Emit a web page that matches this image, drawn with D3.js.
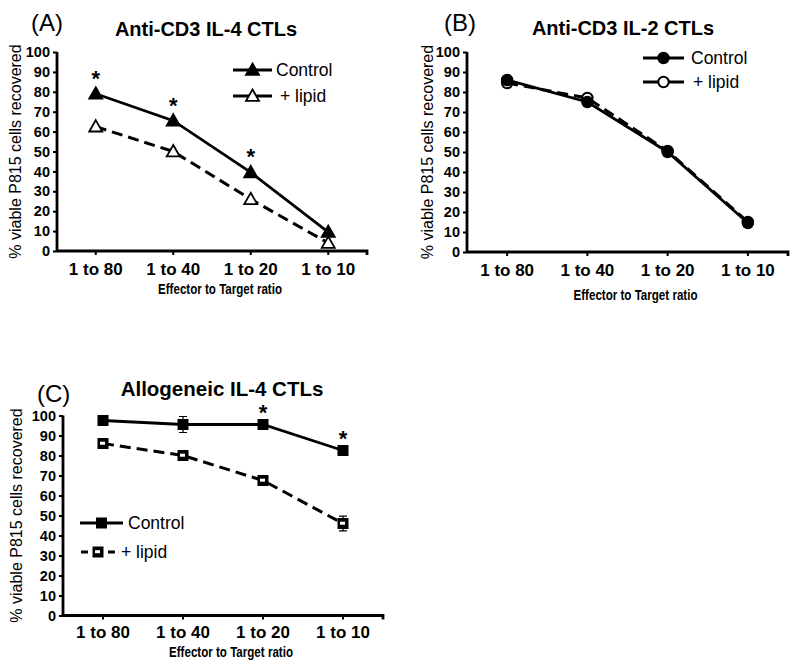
<!DOCTYPE html>
<html><head><meta charset="utf-8">
<script src="https://cdn.jsdelivr.net/npm/d3@7"></script>
<style>
body{margin:0;background:#fff;}
svg{display:block;}
</style></head>
<body>
<script>
const categories = ["1 to 80", "1 to 40", "1 to 20", "1 to 10"];
const yTickValues = [0, 10, 20, 30, 40, 50, 60, 70, 80, 90, 100];
const seriesNames = ["Control", "+ lipid"];

const aControl = [79, 65.5, 39.5, 9.5];
const aLipid = [62.5, 50, 26, 4];
const aStars = [true, true, true, false];

const bControl = [86, 75, 50, 14.5];
const bLipid = [84.5, 77, 50.5, 15];
const bStars = [false, false, false, false];

const cControl = [97.5, 95.5, 95.5, 82.5];
const cControlErr = [0.8, 4, 0.8, 0.8];
const cLipid = [86, 80, 67.5, 46];
const cLipidErr = [0.8, 0.8, 0.8, 3.7];
const cStars = [false, false, true, true];

const W = 800, H = 671;
const SANS = "Liberation Sans, Arial, sans-serif";
const NARROW = "Liberation Sans Narrow, Arial Narrow, Liberation Sans, Arial, sans-serif";
const svg = d3.select("body").append("svg").attr("width", W).attr("height", H);

const panels = [
  {label:"(A)", title:"Anti-CD3 IL-4 CTLs", x0:57, x1:367, yb:251, yt:52, labelX:31, labelY:31, titleX:206, titleY:36, titleSize:20,
   ctrl:aControl, lip:aLipid, ctrlErr:null, lipErr:null, stars:aStars, starOff:8, marker:"tri", tickPad:8,
   legend:{x1:233, x2:272, y1:70, y2:96, tx:276, tx2:280}, yLabelX:21, xLabelY:294},
  {label:"(B)", title:"Anti-CD3 IL-2 CTLs", x0:467, x1:788, yb:252, yt:52, labelX:444, labelY:31, titleX:623, titleY:35, titleSize:20,
   ctrl:bControl, lip:bLipid, ctrlErr:null, lipErr:null, stars:bStars, starOff:8, marker:"circle", tickPad:8,
   legend:{x1:643, x2:684, y1:58, y2:82, tx:691, tx2:693}, yLabelX:433, xLabelY:300},
  {label:"(C)", title:"Allogeneic IL-4 CTLs", x0:63, x1:383, yb:615.5, yt:415.5, labelX:37, labelY:402, titleX:222, titleY:396, titleSize:20.5,
   ctrl:cControl, lip:cLipid, ctrlErr:cControlErr, lipErr:cLipidErr, stars:cStars, starOff:5, marker:"square", tickPad:6,
   legend:{x1:80, x2:123, y1:523, y2:552, tx:128, tx2:121, lx1:81, lx2:115}, yLabelX:22, xLabelY:657}
];

function drawMarker(g, type, filled, x, y){
  if(type==="tri"){
    const s=6.5;
    g.append("path").attr("d",`M${x},${y-s}L${x+s},${y+s*0.75}L${x-s},${y+s*0.75}Z`)
      .attr("fill", filled?"#000":"#fff").attr("stroke","#000").attr("stroke-width",1.8);
  } else if(type==="circle"){
    g.append("circle").attr("cx",x).attr("cy",y).attr("r",5.2)
      .attr("fill", filled?"#000":"#fff").attr("stroke","#000").attr("stroke-width",2);
  } else {
    g.append("rect").attr("x",x-5.5).attr("y",y-5.5).attr("width",11).attr("height",11).attr("fill","#000");
    if(!filled){
      g.append("rect").attr("x",x-3).attr("y",y-1.8).attr("width",5).attr("height",3).attr("fill","#fff");
    }
  }
}

panels.forEach(p => {
  const g = svg.append("g");
  const x = d3.scaleBand().domain(categories).range([p.x0, p.x1]);
  const y = d3.scaleLinear().domain([0, 100]).range([p.yb, p.yt]);
  const cx = d => x(d) + x.bandwidth()/2;

  // y axis
  const ya = g.append("g").attr("transform",`translate(${p.x0},0)`)
    .call(d3.axisLeft(y).tickValues(yTickValues).tickSize(4).tickPadding(3));
  ya.select(".domain").attr("stroke","#000").attr("stroke-width",2.8).attr("d",`M0,${p.yt}V${p.yb}`);
  ya.selectAll(".tick line").attr("stroke","#000").attr("stroke-width",2);
  ya.selectAll("text").attr("font-family",NARROW).attr("font-weight","bold").attr("font-size",14.5).attr("fill","#000");

  // x axis
  const xa = g.append("g").attr("transform",`translate(0,${p.yb})`)
    .call(d3.axisBottom(x).tickSize(4).tickPadding(p.tickPad));
  xa.select(".domain").attr("stroke","#000").attr("stroke-width",2.8).attr("d",`M${p.x0},0H${p.x1}V4`);
  xa.selectAll(".tick line").attr("stroke","#000").attr("stroke-width",2);
  xa.selectAll("text").attr("font-family",SANS).attr("font-weight","bold").attr("font-size",17).attr("fill","#000");

  // axis labels
  g.append("text").attr("transform",`translate(${p.yLabelX},${(p.yt+p.yb)/2}) rotate(-90)`)
    .attr("text-anchor","middle").attr("font-family",SANS).attr("font-size",16)
    .text("% viable P815 cells recovered");
  g.append("text").attr("x",(p.x0+p.x1)/2+8).attr("y",p.xLabelY).attr("text-anchor","middle")
    .attr("font-family",NARROW).attr("font-weight","bold").attr("font-size",15)
    .attr("textLength",124).attr("lengthAdjust","spacingAndGlyphs").text("Effector to Target ratio");

  // titles
  g.append("text").attr("x",p.labelX).attr("y",p.labelY).attr("font-family",SANS)
    .attr("font-size",24).text(p.label);
  g.append("text").attr("x",p.titleX).attr("y",p.titleY).attr("text-anchor","middle")
    .attr("font-family",SANS).attr("font-weight","bold").attr("font-size",p.titleSize).text(p.title);

  const line = d3.line().x((d,i)=>cx(categories[i])).y(d=>y(d));

  // error bars
  [[p.ctrl,p.ctrlErr],[p.lip,p.lipErr]].forEach(([vals,errs])=>{
    if(!errs) return;
    vals.forEach((v,i)=>{
      const xx=cx(categories[i]);
      g.append("path").attr("d",`M${xx},${y(v+errs[i])}V${y(v-errs[i])}M${xx-4},${y(v+errs[i])}H${xx+4}M${xx-4},${y(v-errs[i])}H${xx+4}`)
        .attr("stroke","#000").attr("stroke-width",1.2).attr("fill","none");
    });
  });

  // lines
  g.append("path").datum(p.lip).attr("d",line).attr("fill","none").attr("stroke","#000")
    .attr("stroke-width",3).attr("stroke-dasharray","11,6");
  g.append("path").datum(p.ctrl).attr("d",line).attr("fill","none").attr("stroke","#000").attr("stroke-width",2.8);

  // markers
  p.lip.forEach((v,i)=>drawMarker(g,p.marker,false,cx(categories[i]),y(v)));
  p.ctrl.forEach((v,i)=>drawMarker(g,p.marker,true,cx(categories[i]),y(v)));

  // stars
  p.stars.forEach((s,i)=>{
    if(!s) return;
    g.append("text").attr("x",cx(categories[i])).attr("y",y(p.ctrl[i])-p.starOff).attr("text-anchor","middle")
      .attr("font-family",SANS).attr("font-weight","bold").attr("font-size",22).text("*");
  });

  // legend
  const L = p.legend;
  const lm = (L.x1+L.x2)/2;
  g.append("line").attr("x1",L.x1).attr("x2",L.x2).attr("y1",L.y1).attr("y2",L.y1).attr("stroke","#000").attr("stroke-width",2.8);
  if(p.marker==="square"){
    g.append("line").attr("x1",L.lx1).attr("x2",L.lx2).attr("y1",L.y2).attr("y2",L.y2).attr("stroke","#000")
      .attr("stroke-width",3).attr("stroke-dasharray","7,20");
    drawMarker(g,p.marker,true,lm,L.y1);
    drawMarker(g,p.marker,false,(L.lx1+L.lx2)/2,L.y2);
  } else {
    g.append("line").attr("x1",L.x1).attr("x2",L.x2).attr("y1",L.y2).attr("y2",L.y2).attr("stroke","#000").attr("stroke-width",2.8);
    drawMarker(g,p.marker,true,lm,L.y1);
    drawMarker(g,p.marker,false,lm,L.y2);
  }
  g.append("text").attr("x",L.tx).attr("y",L.y1+6).attr("font-family",SANS).attr("font-size",17.5).text(seriesNames[0]);
  g.append("text").attr("x",L.tx2).attr("y",L.y2+6).attr("font-family",SANS).attr("font-size",17.5).text(seriesNames[1]);
});
</script>
</body></html>
